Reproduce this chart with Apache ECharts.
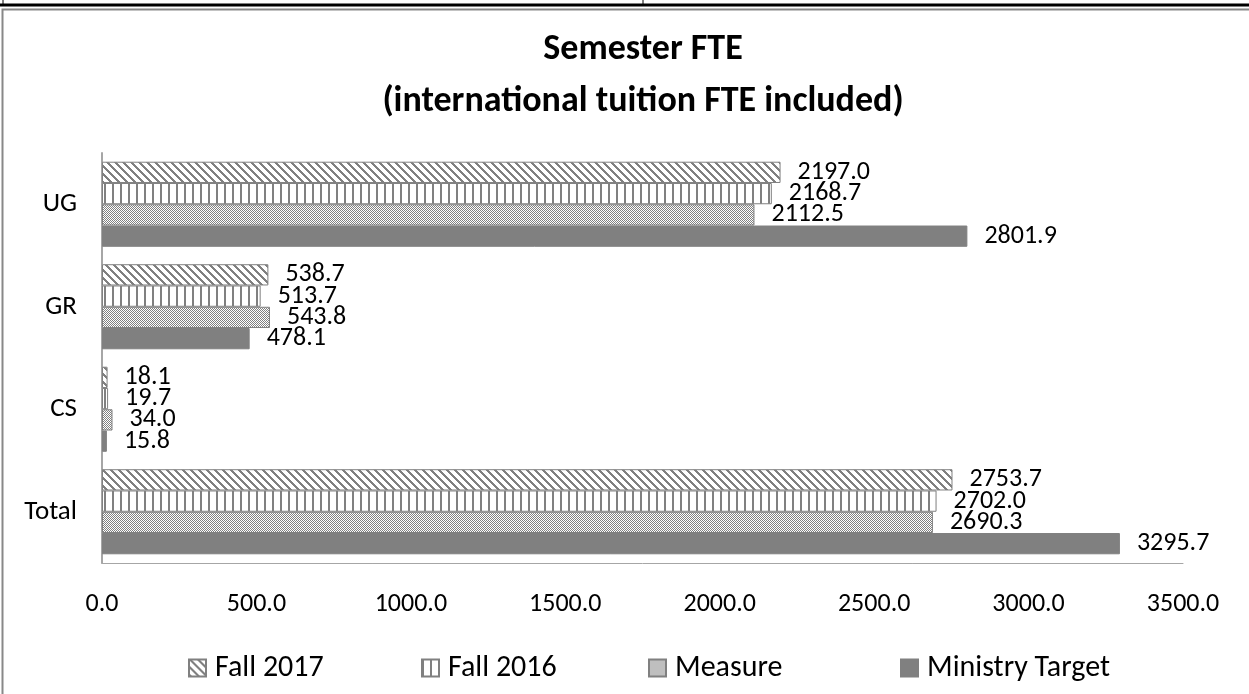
<!DOCTYPE html>
<html>
<head>
<meta charset="utf-8">
<script src="https://cdn.jsdelivr.net/npm/echarts@6/dist/echarts.min.js"></script>
<style>
  html, body { margin: 0; padding: 0; background: #fff; }
  #main { width: 1249px; height: 694px; }
</style>
</head>
<body>
<div id="main"></div>
<script>
// data
var categories = ['UG', 'GR', 'CS', 'Total'];
var seriesNames = ['Fall 2017', 'Fall 2016', 'Measure', 'Ministry Target'];
var fall2017 = [2197.0, 538.7, 18.1, 2753.7];
var fall2016 = [2168.7, 513.7, 19.7, 2702.0];
var measure = [2112.5, 543.8, 34.0, 2690.3];
var ministryTarget = [2801.9, 478.1, 15.8, 3295.7];
var xTicks = { min: 0, max: 3500, interval: 500 };

var FONT = 'Carlito, Lato, sans-serif';
var GRAY = '#808080';

// small canvases used as fill patterns
function makePattern(w, h, draw) {
    var c = document.createElement('canvas');
    c.width = w; c.height = h;
    var ctx = c.getContext('2d');
    ctx.fillStyle = '#fff';
    ctx.fillRect(0, 0, w, h);
    ctx.fillStyle = GRAY;
    draw(ctx);
    return { image: c, repeat: 'repeat' };
}
// diagonal lines  \\\
var diagFill = makePattern(8, 8, function(ctx) {
    for (var y = 0; y < 8; y++) {
        for (var x = 0; x < 8; x++) {
            if (((x - y) % 8 + 8) % 8 < 3) ctx.fillRect(x, y, 1, 1);
        }
    }
});
// vertical lines  |||
var vertFill = makePattern(8, 8, function(ctx) {
    ctx.fillRect(0, 0, 2, 8);
});
// fine checker
var checkFill = makePattern(2, 2, function(ctx) {
    ctx.fillRect(0, 0, 1, 1);
    ctx.fillRect(1, 1, 1, 1);
});

var myChart = echarts.init(document.getElementById('main'));

function barSeries(name, data, fill) {
    return {
        name: name,
        type: 'bar',
        data: data,
        barGap: '0%',
        barCategoryGap: '17%',
        itemStyle: {
            color: fill,
            borderColor: GRAY,
            borderWidth: 1
        },
        label: {
            show: true,
            position: 'right',
            distance: 17,
            color: '#000',
            fontFamily: FONT,
            fontSize: 26,
            formatter: function(p) { return p.value.toFixed(1); }
        }
    };
}

// one legend per item so each sits where the original puts it
var legendLeft = [183, 416, 643, 895];
var legends = seriesNames.map(function(n, i) {
    return {
        data: [n],
        left: legendLeft[i],
        top: 648,
        icon: 'rect',
        itemWidth: 17,
        itemHeight: 17,
        textStyle: { fontFamily: FONT, fontSize: 30, color: '#000', padding: [0, 0, 0, 4] }
    };
});

var option = {
    animation: false,
    title: {
        text: 'Semester FTE\n(international tuition FTE included)',
        left: 638,
        top: 19,
        textAlign: 'center',
        textStyle: {
            fontFamily: FONT,
            fontSize: 36,
            fontWeight: 'bold',
            color: '#000',
            lineHeight: 52
        }
    },
    legend: legends,
    grid: { left: 102, right: 66, top: 153, bottom: 131 },
    xAxis: {
        type: 'value',
        min: xTicks.min,
        max: xTicks.max,
        interval: xTicks.interval,
        axisLine: { show: true, lineStyle: { color: '#a6a6a6', width: 1 } },
        axisTick: { show: false },
        splitLine: { show: false },
        axisLabel: {
            margin: 28,
            color: '#000',
            fontFamily: FONT,
            fontSize: 26,
            formatter: function(v) { return v.toFixed(1); }
        }
    },
    yAxis: {
        type: 'category',
        inverse: true,
        data: categories,
        axisLine: { show: true, lineStyle: { color: '#a6a6a6', width: 2 } },
        axisTick: { show: false },
        axisLabel: { margin: 25, color: '#000', fontFamily: FONT, fontSize: 27 }
    },
    graphic: [
        { type: 'rect', shape: { x: 2.5, y: 9.5, width: 1260, height: 700 },
          style: { fill: 'none', stroke: '#888', lineWidth: 2 }, silent: true },
        { type: 'line', shape: { x1: 0, y1: 5, x2: 1249, y2: 5 },
          style: { stroke: '#000', lineWidth: 3 }, silent: true },
        { type: 'line', shape: { x1: 3, y1: 0, x2: 3, y2: 5 },
          style: { stroke: '#000', lineWidth: 1 }, silent: true },
        { type: 'line', shape: { x1: 643, y1: 0, x2: 643, y2: 5 },
          style: { stroke: '#000', lineWidth: 1 }, silent: true }
    ],
    series: [
        barSeries(seriesNames[0], fall2017, diagFill),
        barSeries(seriesNames[1], fall2016, vertFill),
        barSeries(seriesNames[2], measure, checkFill),
        barSeries(seriesNames[3], ministryTarget, GRAY)
    ]
};
myChart.setOption(option);
</script>
</body>
</html>
